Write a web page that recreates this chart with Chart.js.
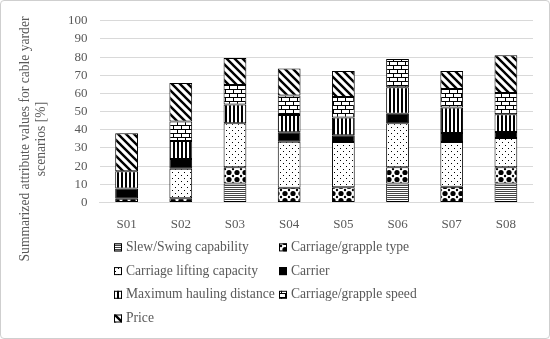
<!DOCTYPE html>
<html>
<head>
  <title>Cable yarder scenarios</title>
  <script src="https://cdn.jsdelivr.net/npm/chart.js"></script>
  <style>
    body { margin: 0; background: #fff; }
    #wrap { width: 550px; height: 339px; box-sizing: border-box; border: 1px solid #cfcfcf; border-radius: 4px; position: relative; }
    canvas { position: absolute; left: 0; top: 0; }
  </style>
</head>
<body>
<div id="wrap"><canvas id="chart" width="548" height="337"></canvas></div>

<script>
  // scenarios on the x axis
  const scenarios = ["S01", "S02", "S03", "S04", "S05", "S06", "S07", "S08"];

  // attribute values per scenario [%]
  const slewSwing      = [0,   0,    10.4, 0,    0,    10.4, 0,    10.4];
  const grappleType    = [2,   2.3,  9,    8.1,  8.3,  9,    8.6,  9];
  const liftCapacity   = [0,   16.2, 24.2, 25.3, 24.9, 24.2, 24.6, 16.1];
  const carrier        = [5.7, 5.4,  0,    5.2,  3.8,  5.2,  5,    3.3];
  const haulDistance   = [9.4, 9.9,  10.3, 9.5,  9.7,  14.6, 14,   9.7];
  const grappleSpeed   = [0,   10.7, 10.7, 10.8, 11.3, 15.6, 10.3, 11.8];
  const price          = [21,  21.2, 14.9, 14.9, 14.4, 0,    9.9,  20.7];

  const yTicks = [0, 10, 20, 30, 40, 50, 60, 70, 80, 90, 100];
  const yTitle = ["Summarized attribute values for cable yarder", "scenarios [%]"];

  const grey = "#595959";
  const font = { family: "'Liberation Serif', serif", size: 13 };
  const textFont = "13.6px 'Liberation Serif', serif";

  // small tile patterns, like the Excel fill patterns
  function makePattern(w, h, draw) {
    const c = document.createElement("canvas");
    c.width = w; c.height = h;
    const g = c.getContext("2d");
    g.fillStyle = "#fff";
    g.fillRect(0, 0, w, h);
    g.fillStyle = "#000";
    g.strokeStyle = "#000";
    draw(g);
    return document.getElementById("chart").getContext("2d").createPattern(c, "repeat");
  }

  const patSlew = makePattern(4, 2, g => { g.fillStyle = "#444"; g.fillRect(0, 0, 4, 1); });
  const patType = makePattern(8, 7, g => {
    g.beginPath(); g.arc(4, 3.5, 2.6, 0, Math.PI * 2); g.fill();
    [[0, 0], [8, 0], [0, 7], [8, 7]].forEach(p => { g.beginPath(); g.arc(p[0], p[1], 1.2, 0, Math.PI * 2); g.fill(); });
  });
  const patLift = makePattern(6, 6, g => { g.fillRect(0, 0, 1, 1); g.fillRect(3, 3, 1, 1); });
  const patHaul = makePattern(4, 1, g => { g.fillRect(0, 0, 2, 1); });
  const patBrick = makePattern(8, 8, g => {
    g.fillRect(0, 0, 8, 1); g.fillRect(0, 4, 8, 1);
    g.fillRect(0, 1, 1, 3); g.fillRect(4, 5, 1, 3);
  });
  const patPrice = makePattern(8, 8, g => {
    g.lineWidth = 2.4;
    g.beginPath();
    g.moveTo(-1, -1); g.lineTo(9, 9);
    g.moveTo(-5, 3); g.lineTo(5, 13);
    g.moveTo(3, -5); g.lineTo(13, 5);
    g.stroke();
  });

  const series = [
    { label: "Slew/Swing capability", data: slewSwing, fill: patSlew },
    { label: "Carriage/grapple type", data: grappleType, fill: patType },
    { label: "Carriage lifting capacity", data: liftCapacity, fill: patLift },
    { label: "Carrier", data: carrier, fill: "#000" },
    { label: "Maximum hauling distance", data: haulDistance, fill: patHaul },
    { label: "Carriage/grapple speed", data: grappleSpeed, fill: patBrick },
    { label: "Price", data: price, fill: patPrice }
  ];

  // legend in two columns under the axis, plus the two-line y title
  const extras = {
    id: "extras",
    afterDraw(chart) {
      const ctx = chart.ctx;
      const top = chart.chartArea.bottom + 45;
      const cols = [113, 278];
      ctx.save();
      ctx.font = textFont;
      ctx.textBaseline = "middle";
      chart.data.datasets.forEach((ds, i) => {
        const x = cols[i % 2];
        const y = top + Math.floor(i / 2) * 23.7;
        ctx.fillStyle = ds.backgroundColor;
        ctx.fillRect(x, y - 4, 8, 8);
        ctx.strokeStyle = "#000";
        ctx.lineWidth = 1;
        ctx.strokeRect(x + 0.5, y - 3.5, 7, 7);
        ctx.fillStyle = grey;
        ctx.fillText(ds.label, x + 12, y);
      });

      ctx.translate(0, 138);
      ctx.rotate(-Math.PI / 2);
      ctx.textAlign = "center";
      ctx.fillText(yTitle[0], 0, 24);
      ctx.fillText(yTitle[1], 0, 40);
      ctx.restore();
    }
  };

  new Chart(document.getElementById("chart"), {
    type: "bar",
    data: {
      labels: scenarios,
      datasets: series.map(s => ({
        label: s.label,
        data: s.data,
        backgroundColor: s.fill,
        borderColor: "#000",
        borderWidth: 1,
        borderSkipped: false,
        barPercentage: 0.42,
        categoryPercentage: 1
      }))
    },
    options: {
      responsive: false,
      animation: false,
      layout: { padding: { left: 55, right: 16, top: 7, bottom: 100 } },
      plugins: {
        legend: { display: false },
        tooltip: { enabled: false }
      },
      scales: {
        x: {
          stacked: true,
          grid: { display: false },
          border: { color: "#d9d9d9" },
          ticks: { color: grey, font: font, padding: 6 }
        },
        y: {
          stacked: true,
          min: 0,
          max: 100,
          afterBuildTicks: axis => { axis.ticks = yTicks.map(v => ({ value: v })); },
          grid: { color: "#d9d9d9", drawTicks: false },
          border: { display: false },
          ticks: { color: grey, font: font, padding: 12, autoSkip: false }
        }
      }
    },
    plugins: [extras]
  });
</script>
</body>
</html>
